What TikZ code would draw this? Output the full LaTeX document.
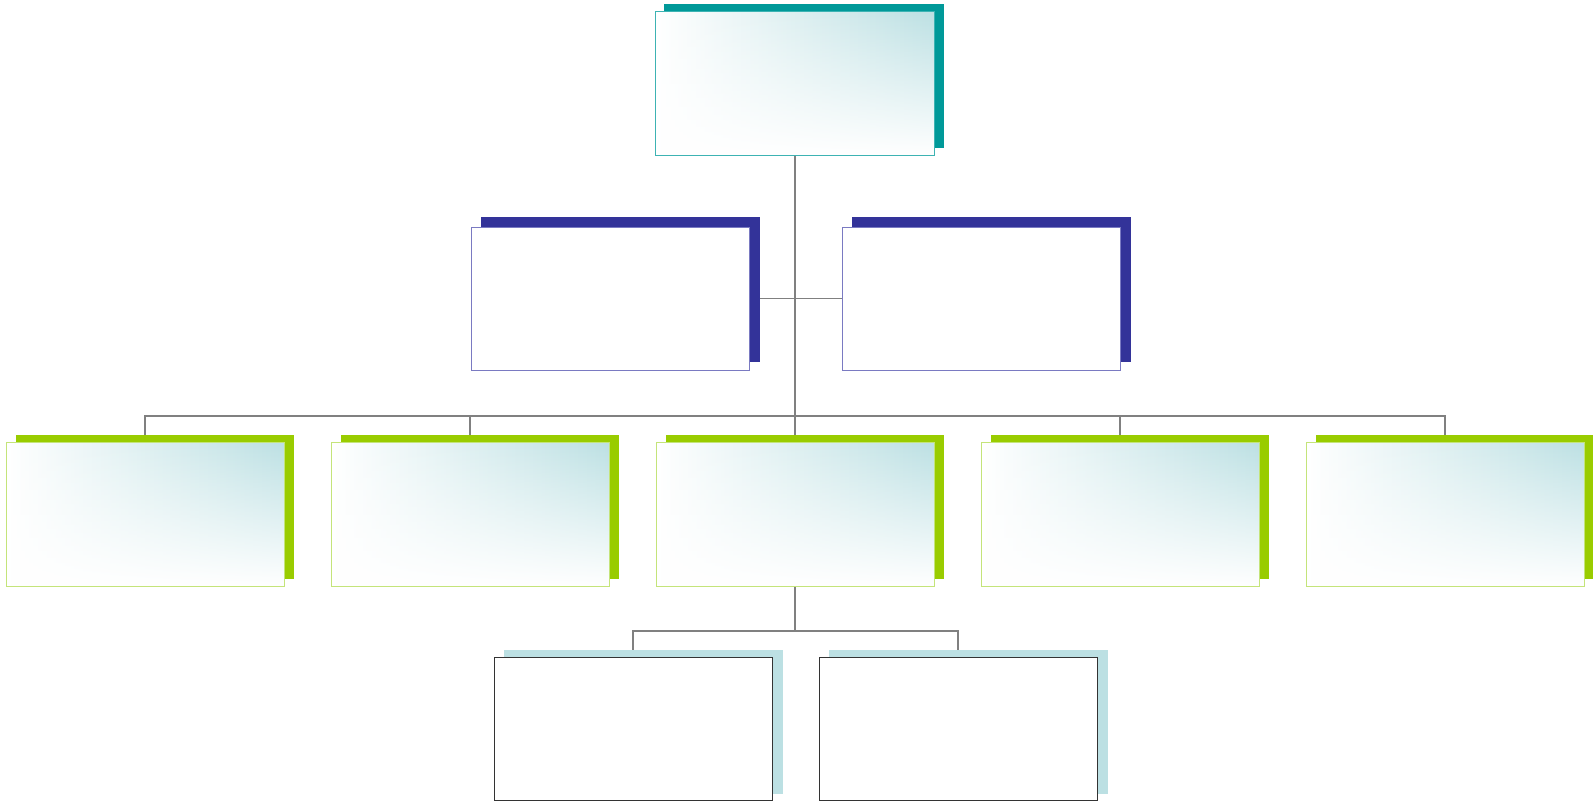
\documentclass[tikz,border=0pt]{standalone}
\usetikzlibrary{fadings}
\definecolor{teal1}{HTML}{009999}
\definecolor{teal2}{HTML}{3DB3B3}
\definecolor{navy1}{HTML}{333399}
\definecolor{navy2}{HTML}{7A7AC2}
\definecolor{lime1}{HTML}{99CC00}
\definecolor{lime2}{HTML}{C4E47A}
\definecolor{ice}{HTML}{BCE0E3}
\definecolor{conn}{HTML}{808080}
\definecolor{dark}{HTML}{333333}
\tikzfading[name=fadedown, top color=transparent!100, middle color=transparent!80, bottom color=transparent!0]
\pgfdeclarelayer{bg}
\pgfdeclarelayer{sh}
\pgfsetlayers{bg,sh,main}
\tikzset{
  boxbase/.style={rectangle, inner sep=0pt, minimum width=278pt, minimum height=144pt},
  gradbox/.style={boxbase, left color=white, middle color=ice!55, right color=ice,
    postaction={fill=white, path fading=fadedown},
    postaction={draw=#1, line width=1pt}},
  plainbox/.style={boxbase, fill=white, draw=#1, line width=1pt},
  connline/.style={draw=conn, line width=1.2pt},
}
\begin{document}
\begin{tikzpicture}[x=1pt,y=-1pt]
\useasboundingbox (0,0) rectangle (1593,801);
% level 1
\node[gradbox=teal2, minimum width=279pt] (top) at (795,83) {};
% level 2
\node[plainbox=navy2, minimum height=143pt] (la) at (610,298.5) {};
\node[plainbox=navy2, minimum height=143pt] (lb) at (981,298.5) {};
% level 3
\node[gradbox=lime2] (a3) at (145,514) {};
\node[gradbox=lime2] (b3) at (470,514) {};
\node[gradbox=lime2] (c3) at (795,514) {};
\node[gradbox=lime2] (d3) at (1120,514) {};
\node[gradbox=lime2] (e3) at (1445,514) {};
% level 4
\node[plainbox=dark, minimum height=143pt] (a4) at (633,728.5) {};
\node[plainbox=dark, minimum height=143pt] (b4) at (958,728.5) {};
% shadows
\begin{pgfonlayer}{sh}
  \fill[teal1] ([shift={(9,-7)}]top.north west) rectangle ([shift={(9,-7)}]top.south east);
  \foreach \n in {la,lb}
    \fill[navy1] ([shift={(10,-10)}]\n.north west) rectangle ([shift={(10,-9)}]\n.south east);
  \foreach \n in {a3,b3,c3,d3,e3}
    \fill[lime1] ([shift={(10,-7)}]\n.north west) rectangle ([shift={(10,-7)}]\n.south east);
  \foreach \n in {a4,b4}
    \fill[ice] ([shift={(10,-7)}]\n.north west) rectangle ([shift={(10,-7)}]\n.south east);
\end{pgfonlayer}
% connectors
\coordinate (bus) at (795,416);
\coordinate (bus2) at (795,631);
\begin{pgfonlayer}{bg}
  \draw[connline] (top.south) -- (c3.north);
  \draw[connline] (la.east) -- (lb.west);
  \draw[connline] (a3.north) |- (bus) -| (e3.north);
  \draw[connline] (b3.north) -- (b3.north |- bus);
  \draw[connline] (d3.north) -- (d3.north |- bus);
  \draw[connline] (c3.south) -- (bus2);
  \draw[connline] (a4.north) |- (bus2) -| (b4.north);
\end{pgfonlayer}
\end{tikzpicture}
\end{document}
